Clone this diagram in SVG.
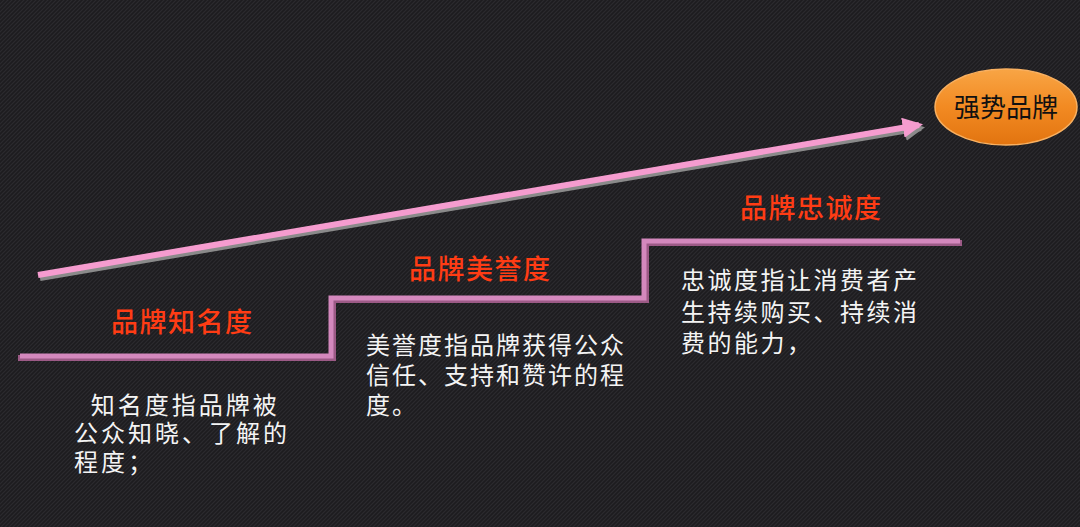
<svg xmlns="http://www.w3.org/2000/svg" width="1080" height="527" viewBox="0 0 1080 527">
<defs>
<pattern id="bg" width="4" height="4" patternUnits="userSpaceOnUse">
<rect width="4" height="4" fill="#1d1c1f"/>
<path d="M-1,1 L1,-1 M0,4 L4,0 M3,5 L5,3" stroke="#2b2a2e" stroke-width="1.2"/>
</pattern>
<linearGradient id="og" x1="0" y1="0" x2="0" y2="1">
<stop offset="0" stop-color="#f8a545"/>
<stop offset="0.5" stop-color="#f28a22"/>
<stop offset="1" stop-color="#e2740f"/>
</linearGradient>
<marker id="ah" viewBox="0 0 10 10" refX="8" refY="5" markerWidth="3.4" markerHeight="3.4" orient="auto" markerUnits="strokeWidth">
<path d="M0,0 L10,5 L0,10 Z" fill="#f59ccf"/>
</marker>
<marker id="ahs" viewBox="0 0 10 10" refX="8" refY="5" markerWidth="3.4" markerHeight="3.4" orient="auto" markerUnits="strokeWidth">
<path d="M0,0 L10,5 L0,10 Z" fill="#8a8a8a"/>
</marker>
<style>
.title{font-family:"Noto Sans CJK SC","Noto Sans",sans-serif;font-size:27px;fill:#ff3c14;font-weight:500;letter-spacing:1.5px}
.body{font-family:"Noto Sans CJK SC","Noto Sans",sans-serif;font-size:24px;fill:#f4f4f4;letter-spacing:2.5px}
.step{fill:none;stroke-linejoin:miter}
</style>
</defs>
<rect width="1080" height="527" fill="url(#bg)"/>
<g id="connectors">
<line x1="40" y1="278" x2="921" y2="128" stroke="#8a8a8a" stroke-width="6" marker-end="url(#ahs)"/>
<line x1="38" y1="275" x2="919" y2="125" stroke="#f59ccf" stroke-width="6" marker-end="url(#ah)"/>
</g>
<g id="steps">
<polyline class="step" points="18,358 333,358 333,300 646,300 646,243 962,243" stroke="#9c5a86" stroke-width="6"/>
<polyline class="step" points="20,356 331,356 331,298 644,298 644,241 960,241" stroke="#d488bd" stroke-width="5"/>
</g>
<g id="node-awareness">
<text class="title" x="111" y="332">品牌知名度</text>
<text class="body" xml:space="preserve" style="letter-spacing:3px"><tspan x="74" y="414">  知名度指品牌被</tspan><tspan x="74" y="442">公众知晓、了解的</tspan><tspan x="74" y="471">程度；</tspan></text>
</g>
<g id="node-reputation">
<text class="title" x="409" y="279">品牌美誉度</text>
<text class="body" style="letter-spacing:2px"><tspan x="366" y="354">美誉度指品牌获得公众</tspan><tspan x="366" y="384">信任、支持和赞许的程</tspan><tspan x="366" y="414">度。</tspan></text>
</g>
<g id="node-loyalty">
<text class="title" x="740" y="218">品牌忠诚度</text>
<text class="body"><tspan x="681" y="289">忠诚度指让消费者产</tspan><tspan x="681" y="321">生持续购买、持续消</tspan><tspan x="681" y="352">费的能力，</tspan></text>
</g>
<g id="node-strong-brand">
<ellipse cx="1006" cy="107" rx="71" ry="38" fill="url(#og)" stroke="#f9b060" stroke-width="1.5"/>
<text x="1006" y="117" text-anchor="middle" font-family="'Noto Sans CJK SC','Noto Sans',sans-serif" font-size="26" fill="#111">强势品牌</text>
</g>
</svg>
